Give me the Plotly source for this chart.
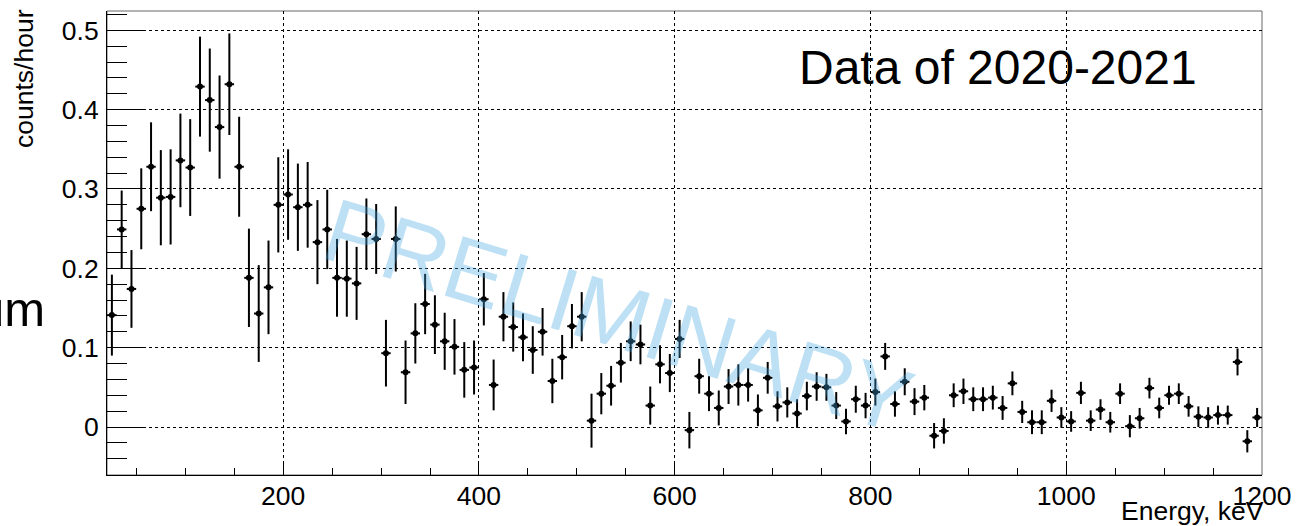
import plotly.graph_objects as go

# Bin centres (keV), 10 keV bins from 20 to 1200 keV
energy_kev = [
    25, 35, 45, 55, 65, 75, 85, 95, 105, 115, 125, 135, 145, 155, 165, 175, 185, 195,
    205, 215, 225, 235, 245, 255, 265, 275, 285, 295, 305, 315, 325, 335, 345, 355,
    365, 375, 385, 395, 405, 415, 425, 435, 445, 455, 465, 475, 485, 495, 505, 515,
    525, 535, 545, 555, 565, 575, 585, 595, 605, 615, 625, 635, 645, 655, 665, 675,
    685, 695, 705, 715, 725, 735, 745, 755, 765, 775, 785, 795, 805, 815, 825, 835,
    845, 855, 865, 875, 885, 895, 905, 915, 925, 935, 945, 955, 965, 975, 985, 995,
    1005, 1015, 1025, 1035, 1045, 1055, 1065, 1075, 1085, 1095, 1105, 1115, 1125,
    1135, 1145, 1155, 1165, 1175, 1185, 1195,
]

counts_per_hour = [
    0.141, 0.249, 0.174, 0.275, 0.328, 0.289, 0.290, 0.336, 0.327, 0.429, 0.412, 0.378,
    0.432, 0.328, 0.188, 0.143, 0.176, 0.280, 0.293, 0.277, 0.280, 0.233, 0.249, 0.188,
    0.187, 0.181, 0.243, 0.237, 0.093, 0.237, 0.069, 0.118, 0.155, 0.129, 0.108, 0.101,
    0.072, 0.075, 0.161, 0.053, 0.139, 0.126, 0.113, 0.097, 0.120, 0.058, 0.088, 0.127,
    0.139, 0.008, 0.042, 0.052, 0.081, 0.108, 0.104, 0.027, 0.079, 0.068, 0.111, -0.004,
    0.064, 0.042, 0.024, 0.051, 0.053, 0.053, 0.021, 0.062, 0.026, 0.031, 0.017, 0.039,
    0.051, 0.050, 0.027, 0.007, 0.035, 0.027, 0.044, 0.089, 0.029, 0.057, 0.032, 0.037,
    -0.011, -0.005, 0.040, 0.045, 0.035, 0.035, 0.037, 0.024, 0.055, 0.019, 0.006, 0.006,
    0.033, 0.012, 0.007, 0.043, 0.008, 0.022, 0.006, 0.042, 0.001, 0.011, 0.049, 0.024,
    0.040, 0.042, 0.026, 0.013, 0.012, 0.015, 0.015, 0.082, -0.018, 0.012,
]

errors = [
    0.051, 0.049, 0.049, 0.051, 0.056, 0.060, 0.060, 0.059, 0.061, 0.063, 0.065, 0.065,
    0.064, 0.063, 0.062, 0.061, 0.059, 0.060, 0.057, 0.055, 0.054, 0.053, 0.050, 0.049,
    0.048, 0.046, 0.045, 0.044, 0.042, 0.041, 0.040, 0.038, 0.038, 0.037, 0.036, 0.035,
    0.035, 0.034, 0.033, 0.032, 0.031, 0.031, 0.030, 0.030, 0.030, 0.028, 0.028, 0.028,
    0.031, 0.034, 0.026, 0.025, 0.025, 0.025, 0.025, 0.024, 0.024, 0.024, 0.024, 0.023,
    0.022, 0.022, 0.022, 0.022, 0.026, 0.021, 0.020, 0.020, 0.019, 0.019, 0.018, 0.018,
    0.018, 0.017, 0.017, 0.016, 0.017, 0.016, 0.017, 0.017, 0.016, 0.017, 0.017, 0.016,
    0.016, 0.016, 0.015, 0.016, 0.015, 0.015, 0.015, 0.015, 0.015, 0.014, 0.015, 0.015,
    0.014, 0.013, 0.013, 0.014, 0.013, 0.013, 0.013, 0.013, 0.014, 0.013, 0.013, 0.013,
    0.012, 0.013, 0.013, 0.013, 0.013, 0.012, 0.012, 0.017, 0.014, 0.012,
]

x_tick_vals = [200, 400, 600, 800, 1000, 1200]
x_tick_text = ["200", "400", "600", "800", "1000", "1200"]
y_tick_vals = [0, 0.1, 0.2, 0.3, 0.4, 0.5]
y_tick_text = ["0", "0.1", "0.2", "0.3", "0.4", "0.5"]

FONT = "Liberation Sans, Arial, Helvetica, sans-serif"
AX = 26.5

fig = go.Figure()
fig.add_trace(go.Scatter(
    x=energy_kev,
    y=counts_per_hour,
    mode="markers",
    marker=dict(size=0, color="black"),
    error_y=dict(type="data", array=errors, visible=True, thickness=2, width=0, color="black"),
    error_x=dict(type="constant", value=4.8, visible=True, thickness=2, width=0, color="black"),
    showlegend=False,
    hoverinfo="x+y",
))

fig.update_layout(
    width=1296,
    height=526,
    autosize=False,
    margin=dict(l=107, r=34, t=11, b=51, autoexpand=False),
    paper_bgcolor="white",
    plot_bgcolor="white",
    font=dict(family=FONT, color="black"),
    showlegend=False,
    xaxis=dict(
        range=[20, 1200],
        automargin=False,
        tickmode="array",
        tickvals=x_tick_vals,
        ticktext=x_tick_text,
        ticks="inside",
        ticklen=13,
        tickwidth=1,
        tickcolor="black",
        tickfont=dict(size=AX, family=FONT, color="black"),
        ticklabelstandoff=-3,
        minor=dict(dtick=50, tick0=0, ticks="inside", ticklen=7, tickwidth=1,
                   tickcolor="black", showgrid=False),
        showgrid=True,
        gridcolor="black",
        gridwidth=1,
        griddash="dot",
        showline=True,
        linecolor="black",
        linewidth=1,
        zeroline=False,
        fixedrange=True,
    ),
    yaxis=dict(
        range=[-0.0605, 0.5243],
        automargin=False,
        tickmode="array",
        tickvals=y_tick_vals,
        ticktext=y_tick_text,
        ticks="inside",
        ticklen=38,
        tickwidth=1,
        tickcolor="black",
        tickfont=dict(size=AX, family=FONT, color="black"),
        ticklabelstandoff=2,
        minor=dict(dtick=0.02, tick0=0, ticks="inside", ticklen=20, tickwidth=1,
                   tickcolor="black", showgrid=False),
        showgrid=True,
        gridcolor="black",
        gridwidth=1,
        griddash="dot",
        showline=True,
        linecolor="black",
        linewidth=1,
        zeroline=False,
        fixedrange=True,
    ),
    shapes=[dict(type="rect", xref="paper", yref="paper", x0=0, x1=1, y0=0, y1=1,
                 line=dict(color="#666666", width=1), layer="below")],
    annotations=[
        dict(text="Data of 2020-2021", xref="paper", yref="paper",
             x=(797 - 107) / 1155, y=(475 - 67.5) / 464, xanchor="left", yanchor="middle",
             showarrow=False, font=dict(size=48, family=FONT, color="black")),
        dict(text="um", xref="paper", yref="paper",
             x=(47 - 107) / 1155, y=(475 - 309) / 464, xanchor="right", yanchor="middle",
             showarrow=False, font=dict(size=49, family=FONT, color="black")),
        dict(text="counts/hour", xref="paper", yref="paper", textangle=-90,
             x=(24 - 107) / 1155, y=(475 - 79) / 464, xanchor="center", yanchor="middle",
             showarrow=False, font=dict(size=AX, family=FONT, color="black")),
        dict(text="Energy, keV", xref="paper", yref="paper",
             x=(1266 - 107) / 1155, y=(475 - 511.5) / 464, xanchor="right", yanchor="middle",
             showarrow=False, font=dict(size=AX, family=FONT, color="black")),
        dict(text="PRELIMINARY", xref="paper", yref="paper", textangle=17,
             x=(618 - 107) / 1155, y=(475 - 316) / 464, xanchor="center", yanchor="middle",
             showarrow=False, font=dict(size=90, family=FONT, color="rgba(69,166,226,0.35)")),
    ],
)

post = (
    "document.documentElement.style.overflow='hidden';"
    "document.body.style.margin='0';document.body.style.padding='0';"
    "document.body.style.overflow='hidden';"
)

fig.write_html("out.html", config={"displayModeBar": False, "responsive": False},
               post_script=post)
